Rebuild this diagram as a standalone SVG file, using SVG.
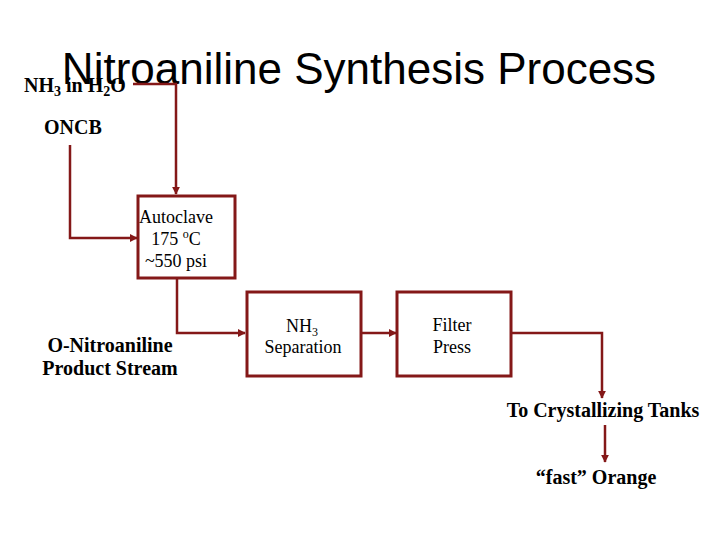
<svg xmlns="http://www.w3.org/2000/svg" width="720" height="540" viewBox="0 0 720 540">
<style>
.t{font-family:"Liberation Serif","Times New Roman",serif;fill:#000}
.b{font-weight:bold;font-size:20px}
.n{font-size:18px}
.box{fill:#fff;stroke:#841818;stroke-width:3}
.ln{fill:none;stroke:#841818;stroke-width:2.5}
</style>
<defs>
<marker id="ah" viewBox="0 0 10 10" refX="9" refY="5" markerWidth="8" markerHeight="8" markerUnits="userSpaceOnUse" orient="auto">
<path d="M0,0 L10,5 L0,10 z" fill="#841818"/>
</marker>
</defs>
<rect width="720" height="540" fill="#fff"/>
<text x="359" y="84" text-anchor="middle" font-family="Liberation Sans, Arial, sans-serif" font-size="44" fill="#000">Nitroaniline Synthesis Process</text>
<g id="connectors">
<path class="ln" d="M133,84 H176 V194" marker-end="url(#ah)"/>
<path class="ln" d="M70,145 V238 H137" marker-end="url(#ah)"/>
<path class="ln" d="M177,279 V333 H245" marker-end="url(#ah)"/>
<path class="ln" d="M362,333 H396" marker-end="url(#ah)"/>
<path class="ln" d="M512,333 H602 V398" marker-end="url(#ah)"/>
<path class="ln" d="M605,425 V462" marker-end="url(#ah)"/>
</g>
<g id="nh3-feed"><text class="t b" x="24" y="92">NH<tspan font-size="14" dy="4">3</tspan><tspan dy="-4"> in H</tspan><tspan font-size="14" dy="4">2</tspan><tspan dy="-4">O</tspan></text></g>
<g id="oncb"><text class="t b" x="44" y="134">ONCB</text></g>
<g id="autoclave">
<rect class="box" x="138" y="196" width="97" height="82"/>
<text class="t n" text-anchor="middle" x="176" y="223">Autoclave</text>
<text class="t n" text-anchor="middle" x="176" y="245">175 <tspan font-size="12" dy="-7">o</tspan><tspan dy="7">C</tspan></text>
<text class="t n" text-anchor="middle" x="176" y="267">~550 psi</text>
</g>
<g id="product-stream">
<text class="t b" text-anchor="middle" x="110" y="352">O-Nitroaniline</text>
<text class="t b" text-anchor="middle" x="110" y="375">Product Stream</text>
</g>
<g id="nh3-separation">
<rect class="box" x="247" y="292" width="114" height="84"/>
<text class="t n" text-anchor="middle" x="302" y="332">NH<tspan font-size="12" dy="4">3</tspan></text>
<text class="t n" text-anchor="middle" x="303" y="353">Separation</text>
</g>
<g id="filter-press">
<rect class="box" x="397" y="292" width="114" height="84"/>
<text class="t n" text-anchor="middle" x="452" y="331">Filter</text>
<text class="t n" text-anchor="middle" x="452" y="353">Press</text>
</g>
<g id="crystallizing"><text class="t b" text-anchor="middle" x="603" y="417">To Crystallizing Tanks</text></g>
<g id="fast-orange"><text class="t b" text-anchor="middle" x="596" y="484">“fast” Orange</text></g>
</svg>
